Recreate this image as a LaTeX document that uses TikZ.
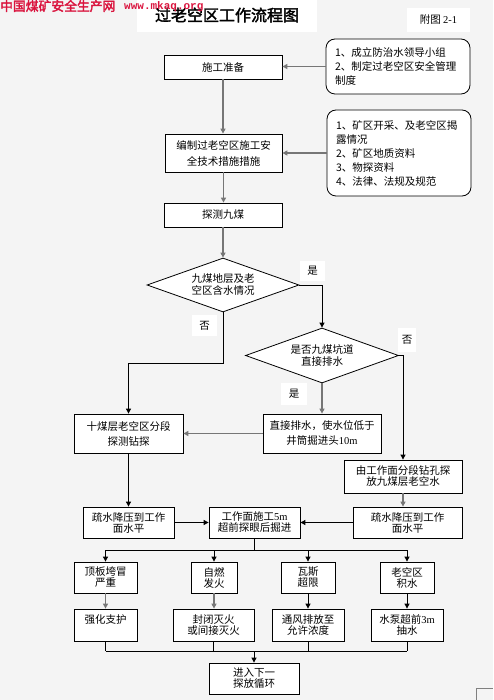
\documentclass[tikz,border=0pt]{standalone}
\usepackage{fontspec}
\setmainfont{Noto Sans CJK SC}
\newfontfamily\latfont{Liberation Serif}
\newfontfamily\titlefont[FakeBold=2.2]{Noto Sans CJK SC}
\newfontfamily\wmfont[FakeBold=2.5]{Noto Sans CJK SC}
\newfontfamily\wmmono{Liberation Mono}
\usetikzlibrary{shapes.geometric,arrows.meta}
\definecolor{bgc}{RGB}{244,244,244}
\definecolor{lg}{RGB}{118,118,118}
\definecolor{wm}{RGB}{218,20,62}
\newcommand\latn[1]{{\latfont #1}}
\newcommand\fs[1]{\fontsize{10.5}{#1}\selectfont}
\begin{document}
\begin{tikzpicture}[x=1pt,y=-1pt,
  box/.style={draw=black, line width=0.8pt, fill=white, inner sep=0pt, align=center, font=\fs{11}},
  rbox/.style={draw=black, line width=0.8pt, fill=white, rounded corners=9pt, inner ysep=0pt, inner xsep=9pt, align=left, text width=126pt, font=\fs{14}},
  dia/.style={diamond, draw=black, line width=0.8pt, fill=white, inner sep=0pt, aspect=2.8, align=center, font=\fs{12}},
  lab/.style={fill=white, inner sep=0pt, font=\fs{11}},
  gl/.style={draw=lg, line width=1.6pt, -{Triangle[length=5pt,width=5pt]}},
  bl/.style={draw=black, line width=0.9pt, -{Triangle[length=5pt,width=5pt]}},
  pl/.style={draw=black, line width=0.9pt}]
\useasboundingbox (0,0) rectangle (493,700);
\fill[bgc] (0,0) rectangle (493,700);
% title area
\node[fill=white, minimum width=180pt, minimum height=32pt, inner sep=0pt] (tb) at (227,16) {};
\node[font=\titlefont\fontsize{16}{16}\selectfont] (title) at (227,15) {过老空区工作流程图};
\node[fill=white, minimum width=63pt, minimum height=24pt, inner sep=0pt, font=\fs{11}] (fig) at (438.5,20) {附图 \latn{2-1}};
% top boxes
\node[box, minimum width=118pt, minimum height=24pt] (s1) at (223,67) {施工准备};
\node[rbox, minimum height=55pt] (rb1) at (398,66.5) {1、成立防治水领导小组\\2、制定过老空区安全管理\\制度};
\node[box, minimum width=117pt, minimum height=38pt, font=\fs{16}] (s2) at (223.5,153) {编制过老空区施工安\\全技术措施措施};
\node[rbox, minimum height=86pt] (rb2) at (399,153) {1、矿区开采、及老空区揭\\露情况\\2、矿区地质资料\\3、物探资料\\4、法律、法规及规范};
\node[box, minimum width=118pt, minimum height=24pt] (s3) at (223,215) {探测九煤};
% decisions
\node[dia, minimum width=152pt, minimum height=54pt] (d1) at (223,285) {九煤地层及老\\空区含水情况};
\node[dia, minimum width=153pt, minimum height=55pt] (d2) at (322,355.5) {是否九煤坑道\\直接排水};
% middle boxes
\node[box, minimum width=109pt, minimum height=39pt, font=\fs{15}] (b10) at (128.5,433.5) {十煤层老空区分段\\探测钻探};
\node[box, minimum width=118pt, minimum height=39pt, font=\fs{15}] (bzj) at (322,433.5) {直接排水，使水位低于\\井筒掘进头\latn{10m}};
\node[box, minimum width=118pt, minimum height=33pt] (byg) at (403,476.5) {由工作面分段钻孔探\\放九煤层老空水};
\node[box, minimum width=91pt, minimum height=31pt] (bsl) at (128.5,522.5) {疏水降压到工作\\面水平};
\node[box, minimum width=91pt, minimum height=31pt] (bgm) at (254.5,522.5) {工作面施工\latn{5m}\\超前探眼后掘进};
\node[box, minimum width=109pt, minimum height=31pt] (bsr) at (407.5,522.5) {疏水降压到工作\\面水平};
% row 1
\node[box, minimum width=63pt, minimum height=31pt] (r1a) at (105.5,577.5) {顶板垮冒\\严重};
\node[box, minimum width=46pt, minimum height=31pt] (r1b) at (214,577.5) {自燃\\发火};
\node[box, minimum width=54pt, minimum height=31pt] (r1c) at (308,577.5) {瓦斯\\超限};
\node[box, minimum width=54pt, minimum height=31pt] (r1d) at (407,577.5) {老空区\\积水};
% row 2
\node[box, minimum width=63pt, minimum height=32pt] (r2a) at (105.5,625) {强化支护\\~};
\node[box, minimum width=81pt, minimum height=32pt] (r2b) at (213.5,625) {封闭灭火\\或间接灭火};
\node[box, minimum width=72pt, minimum height=32pt] (r2c) at (308,625) {通风排放至\\允许浓度};
\node[box, minimum width=72pt, minimum height=32pt] (r2d) at (407,625) {水泵超前\latn{3m}\\抽水};
\node[box, minimum width=90pt, minimum height=31pt] (fin) at (254,678.5) {进入下一\\探放循环};
% connectors
\draw[gl] (rb1.west) -- (rb1.west -| s1.east);
\draw[gl] (s1.south) -- (s1.south |- s2.north);
\draw[gl] (rb2.west) -- (rb2.west -| s2.east);
\draw[gl] (s2.south) -- (s2.south |- s3.north);
\draw[gl] (s3.south) -- (d1.north);
\draw[bl] (d1.east) -| (d2.north);
\coordinate (c1) at (223,363);
\draw[bl] (d1.south) -- (c1) -| (b10.north);
\draw[gl] (d2.south) -- (bzj.north);
\draw[bl] (d2.east) -| (byg.north);
\draw[gl] (bzj.west) -- (b10.east);
\draw[bl] (b10.south) -- (bsl.north);
\draw[gl] (byg.south) -- (byg.south |- bsr.north);
\draw[bl] (bsl.east) -- (bgm.west);
\draw[bl] (bsr.west) -- (bgm.east);
\coordinate (br) at (254.5,550);
\draw[pl] (bgm.south) -- (br);
\draw[pl] (br -| r1a.north) -- (br -| r1d.north);
\foreach \n in {r1a,r1b,r1c,r1d} \draw[bl] (br -| \n.north) -- (\n.north);
\draw[gl] (r1a.south) -- (r2a.north);
\draw[gl] (r1b.south) -- (r1b.south |- r2b.north);
\draw[bl] (r1c.south) -- (r2c.north);
\draw[bl] (r1d.south) -- (r2d.north);
\coordinate (mg) at (254,651);
\foreach \n in {r2a,r2b,r2c,r2d} \draw[pl] (\n.south) -- (mg -| \n.south);
\draw[pl] (mg -| r2a.south) -- (mg -| r2d.south);
\draw[bl] (mg) -- (fin.north);
% labels
\node[lab, minimum width=25pt, minimum height=20pt] (y1) at (312.5,271) {是};
\node[lab, minimum width=25pt, minimum height=21pt] (n1) at (204.5,325.5) {否};
\node[lab, minimum width=18pt, minimum height=24pt] (n2) at (407,340) {否};
\node[lab, minimum width=26pt, minimum height=22pt] (y2) at (294,394) {是};
% page corner mark
\draw[gray, line width=0.7pt] (476,700) -- (476,688) -- (493,688);
% watermark
\node[anchor=west, inner sep=0pt, text=wm, font=\wmfont\fontsize{12.8}{13}\selectfont] (wm1) at (0,6) {中国煤矿安全生产网};
\node[anchor=west, inner sep=0pt, text=wm, font=\wmmono\bfseries\fontsize{11}{12}\selectfont] (wm2) at (124,7) {www.mkaq.org};
\end{tikzpicture}
\end{document}
